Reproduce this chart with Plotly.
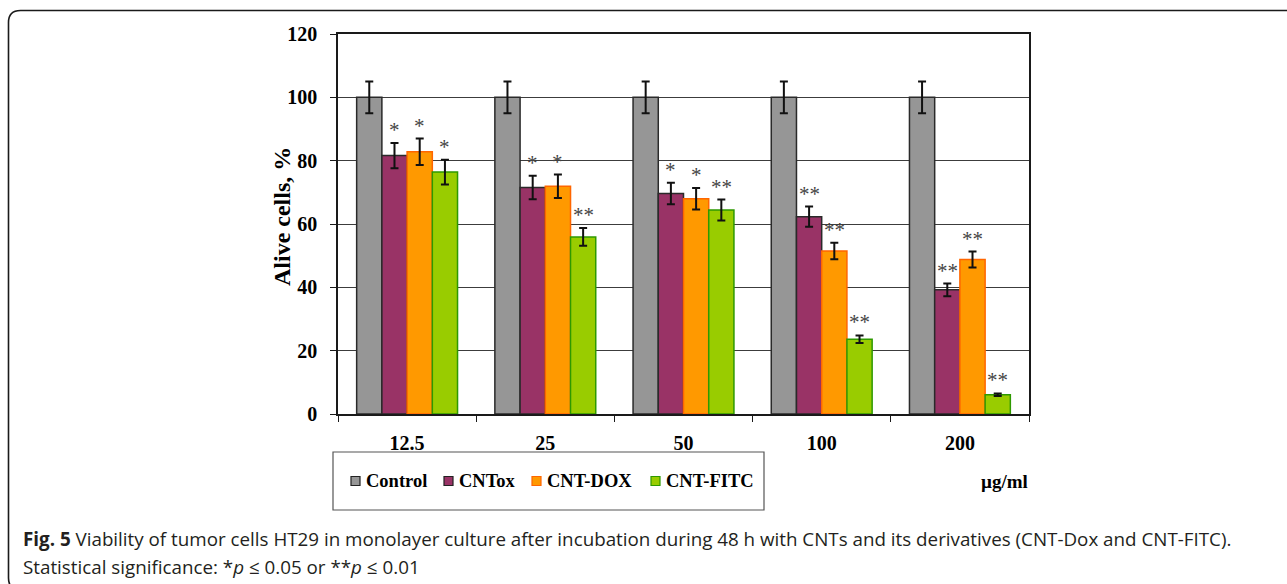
import plotly.graph_objects as go

# Concentrations (µg/ml) and viability of HT29 cells, % of control
categories = ["12.5", "25", "50", "100", "200"]
series_names = ["Control", "CNTox", "CNT-DOX", "CNT-FITC"]

control = [100, 100, 100, 100, 100]
control_err = [5, 5, 5, 5, 5]
cntox = [81.6, 71.5, 69.6, 62.3, 39.2]
cntox_err = [4.0, 3.7, 3.4, 3.2, 2.0]
dox = [82.8, 71.9, 68.0, 51.5, 48.8]
dox_err = [4.2, 3.7, 3.4, 2.6, 2.5]
fitc = [76.4, 55.9, 64.4, 23.6, 6.1]
fitc_err = [3.9, 2.8, 3.3, 1.2, 0.4]

# Significance marks above each bar
control_sig = ["", "", "", "", ""]
cntox_sig = ["*", "*", "*", "**", "**"]
dox_sig = ["*", "*", "*", "**", "**"]
fitc_sig = ["*", "**", "**", "**", "**"]

y_ticks = [0, 20, 40, 60, 80, 100, 120]

values = [control, cntox, dox, fitc]
errors = [control_err, cntox_err, dox_err, fitc_err]
sigs = [control_sig, cntox_sig, dox_sig, fitc_sig]

fills = ["#969696", "#993366", "#FF9900", "#99CC00"]
edges = ["#2a2a2a", "#2a2a2a", "#FF6600", "#2E9900"]

W, H = 1287, 584
L, R, T, B = 338, 1029, 34, 414          # plot area in pixels
BARGAP = 0.27
SERIF = "Liberation Serif, Times New Roman, serif"


def xp(px):
    return (px - L) / (R - L)


def yp(py):
    return (B - py) / (B - T)


fig = go.Figure()
for name, v, e, fc, ec in zip(series_names, values, errors, fills, edges):
    fig.add_trace(go.Bar(
        name=name, x=categories, y=v,
        marker=dict(color=fc, line=dict(color=ec, width=1.5)),
        error_y=dict(type="data", array=e, visible=True,
                     color="#111111", thickness=2, width=4),
        showlegend=False,
    ))

# Asterisks above the error bars
n = len(series_names)
slot = (1 - BARGAP) / n
annotations = []
for j, (v, e, s) in enumerate(zip(values, errors, sigs)):
    off = (j - (n - 1) / 2) * slot
    for i, txt in enumerate(s):
        if not txt:
            continue
        annotations.append(dict(
            x=i + off, y=v[i] + e[i], xref="x", yref="y",
            text=txt, showarrow=False, xanchor="center", yanchor="middle",
            yshift=13, font=dict(family=SERIF, size=21, color="#444444"),
        ))

# Legend: framed box with small squares
legend_box = (333, 452, 764, 510)
legend_sq_x = [351, 444, 532, 651]
legend_y = 481
shapes = [dict(type="rect", xref="paper", yref="paper",
               x0=xp(legend_box[0]), x1=xp(legend_box[2]),
               y0=yp(legend_box[3]), y1=yp(legend_box[1]),
               line=dict(color="#555555", width=1.2), fillcolor="white")]
for name, sx, fc, ec in zip(series_names, legend_sq_x, fills, edges):
    shapes.append(dict(type="rect", xref="paper", yref="paper",
                       x0=xp(sx), x1=xp(sx + 9),
                       y0=yp(legend_y + 4.5), y1=yp(legend_y - 4.5),
                       line=dict(color=ec if ec != "#2a2a2a" else "#222222", width=1.2),
                       fillcolor=fc))
    annotations.append(dict(
        x=xp(sx + 13), y=yp(legend_y), xref="paper", yref="paper",
        text=f"<b>{name}</b>", showarrow=False, xanchor="left", yanchor="middle",
        font=dict(family=SERIF, size=18.5, color="black"),
    ))

# Unit label for the x axis
annotations.append(dict(
    x=xp(1004), y=yp(481), xref="paper", yref="paper",
    text="<b>µg/ml</b>", showarrow=False, xanchor="center", yanchor="middle",
    font=dict(family=SERIF, size=19, color="black"),
))

# Y axis title
annotations.append(dict(
    x=xp(282), y=yp(217), xref="paper", yref="paper",
    text="<b>Alive cells, %</b>", showarrow=False, textangle=-90,
    xanchor="center", yanchor="middle",
    font=dict(family=SERIF, size=24, color="black"),
))

# Figure caption
CAP = "Open Sans, Noto Sans, sans-serif"
annotations.append(dict(
    x=xp(21), y=yp(539), xref="paper", yref="paper",
    text="<b>Fig. 5</b> Viability of tumor cells HT29 in monolayer culture after "
         "incubation during 48 h with CNTs and its derivatives (CNT-Dox and CNT-FITC).",
    showarrow=False, xanchor="left", yanchor="middle",
    font=dict(family=CAP, size=18.8, color="#231f20"),
))
annotations.append(dict(
    x=xp(21), y=yp(567), xref="paper", yref="paper",
    text="Statistical significance: *<i>p</i> ≤ 0.05 or **<i>p</i> ≤ 0.01",
    showarrow=False, xanchor="left", yanchor="middle",
    font=dict(family=CAP, size=18.8, color="#231f20"),
))

# Rounded outer frame (open to the right and bottom)
r = 12
fl, ft, fr, fb = 8.5, 10.5, 1310, 590
path = (f"M {xp(fr)},{yp(ft)} L {xp(fl + r)},{yp(ft)} "
        f"Q {xp(fl)},{yp(ft)} {xp(fl)},{yp(ft + r)} "
        f"L {xp(fl)},{yp(fb - r)} "
        f"Q {xp(fl)},{yp(fb)} {xp(fl + r)},{yp(fb)} "
        f"L {xp(fr)},{yp(fb)}")
shapes.append(dict(type="path", xref="paper", yref="paper", path=path,
                   line=dict(color="#1a1a1a", width=1.6)))

fig.update_layout(
    width=W, height=H,
    margin=dict(l=L, r=W - R, t=T, b=H - B, autoexpand=False),
    paper_bgcolor="white", plot_bgcolor="white",
    barmode="group", bargap=BARGAP, bargroupgap=0,
    showlegend=False,
    shapes=shapes, annotations=annotations,
)
fig.update_xaxes(
    type="category", categoryorder="array", categoryarray=categories,
    showline=True, linecolor="#1a1a1a", linewidth=1.5, mirror=True,
    ticks="outside", tickson="boundaries", ticklen=6, tickcolor="#1a1a1a",
    tickwidth=1, ticklabelstandoff=10,
    tickfont=dict(family=SERIF, size=20, color="black", weight="bold"),
    showgrid=False,
)
fig.update_yaxes(
    range=[0, 120], tickvals=y_ticks, ticktext=[str(t) for t in y_ticks],
    showline=True, linecolor="#1a1a1a", linewidth=1.5, mirror=True,
    ticks="outside", ticklen=6, tickcolor="#1a1a1a", ticklabelstandoff=9,
    tickfont=dict(family=SERIF, size=20, color="black", weight="bold"),
    showgrid=True, gridcolor="#3c3c3c", gridwidth=1, zeroline=False,
)

fig.write_html("out.html")
